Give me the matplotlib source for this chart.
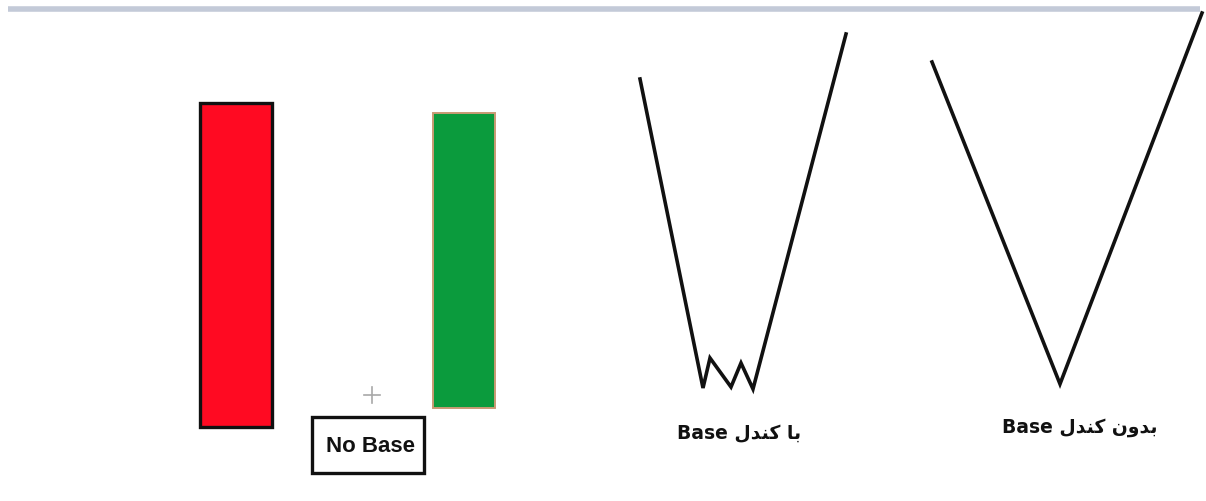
import matplotlib
matplotlib.use("Agg")
import matplotlib.pyplot as plt
from matplotlib.patches import Rectangle

# ---- data (pixel-like chart units, y grows downward) ----
candle_centers = [236, 464]
candle_widths = [72, 62]
candle_tops = [104, 114]
candle_bottoms = [428, 409]
candle_faces = ["#ff0a22", "#0b9b3d"]
candle_edges = ["#111111", "#c99a74"]
candle_edge_w = [2.4, 1.4]

w_x = [640, 703, 710, 731, 741, 753, 846]
w_y = [80, 389, 359, 388, 364, 390, 35]

v_x = [932, 1060, 1202]
v_y = [63, 385, 14]

# Arabic labels written with presentation forms in visual order
kandal = "\uFEDD\uFEAA\uFEE8\uFEDB"
ba = "\uFE8E\uFE91"
bedoon = "\uFEE5\uFEED\uFEAA\uFE91"
label_w = "Base " + kandal + " " + ba        # با کندل Base
label_v = "Base " + kandal + " " + bedoon    # بدون کندل Base
label_box = "No Base"

fig = plt.figure(figsize=(12.06, 5.02), dpi=100)
ax = fig.add_axes([0, 0, 1, 1])
ax.set_xlim(0, 1206)
ax.set_ylim(502, 0)
ax.axis("off")

# top frame line
ax.plot([8, 1200], [10, 10], color="#c3cad8", lw=4.0, solid_capstyle="butt")

# candles
for cx, w, t, b, fc, ec, lw in zip(candle_centers, candle_widths, candle_tops,
                                   candle_bottoms, candle_faces, candle_edges, candle_edge_w):
    ax.add_patch(Rectangle((cx - w / 2, t), w, b - t, facecolor=fc,
                           edgecolor=ec, lw=lw, joinstyle="miter"))

# small cursor cross
ax.plot([364, 380], [396, 396], color="#a8a8a8", lw=1.2)
ax.plot([372, 372], [388, 404], color="#a8a8a8", lw=1.2)

# No Base box
ax.add_patch(Rectangle((312, 418), 112, 56, facecolor="white",
                       edgecolor="#111111", lw=2.4, joinstyle="miter"))
ax.text(371, 447, label_box, ha="center", va="center", fontsize=16,
        fontweight="bold", family="Liberation Sans", color="#111111")

# W and V shapes
ax.plot(w_x, w_y, color="#111111", lw=2.6, solid_joinstyle="miter")
ax.plot(v_x, v_y, color="#111111", lw=2.6, solid_joinstyle="miter")

ax.text(739, 434, label_w, ha="center", va="center", fontsize=13.5,
        fontweight="bold", family="DejaVu Sans", color="#111111")
ax.text(1080, 428, label_v, ha="center", va="center", fontsize=13.5,
        fontweight="bold", family="DejaVu Sans", color="#111111")

fig.savefig("out.png", dpi=100, facecolor="white")
